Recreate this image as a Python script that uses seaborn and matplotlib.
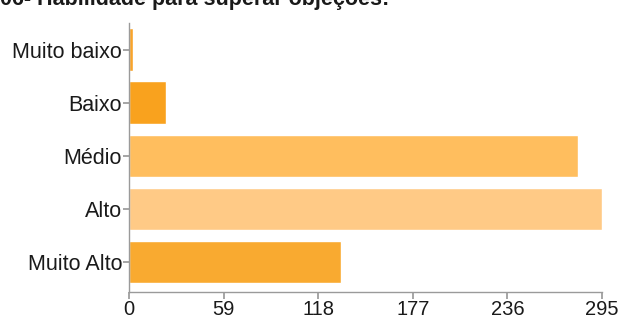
import matplotlib
matplotlib.use("Agg")
import matplotlib.pyplot as plt
import seaborn as sns
import pandas as pd

categories = ["Muito baixo", "Baixo", "Médio", "Alto", "Muito Alto"]
values = [2.5, 23, 280, 295, 132]
colors = ["#F9A42A", "#F9A21E", "#FFBE5E", "#FFCA86", "#F9AA30"]
xticks = [0, 59, 118, 177, 236, 295]
title = "06- Habilidade para superar objeções:"

sns.set_theme(style="white")
plt.rcParams["font.family"] = ["Liberation Sans", "DejaVu Sans"]

df = pd.DataFrame({"cat": categories, "val": values})

fig = plt.figure(figsize=(6.22, 3.22), dpi=100)
ax = fig.add_axes([129/622, 30/322, (602-129)/622, 269/322])
sns.barplot(data=df, x="val", y="cat", hue="cat", palette=colors, order=categories,
            hue_order=categories, width=0.8, legend=False, ax=ax, saturation=1)

ax.set_xlim(0, 295)
ax.set_ylim(4.56, -0.5)
ax.set_xticks(xticks)
ax.set_xticklabels([str(t) for t in xticks])
ax.set_xlabel("")
ax.set_ylabel("")
for s in ["top", "right"]:
    ax.spines[s].set_visible(False)
for s in ["left", "bottom"]:
    ax.spines[s].set_color("#9a9a9a")
    ax.spines[s].set_linewidth(1.0)
ax.tick_params(axis="x", length=5, color="#9a9a9a", labelsize=14.5, pad=0.5, labelcolor="#1a1a1a", bottom=True)
ax.tick_params(axis="y", length=4, color="#9a9a9a", labelsize=15.5, pad=1, labelcolor="#1a1a1a", left=True)

fig.text(0.0, 1 - 5/322, title, fontsize=15.5, fontweight="bold", color="#1a1a1a", va="baseline", ha="left")

fig.savefig("out.png", dpi=100, facecolor="white")
